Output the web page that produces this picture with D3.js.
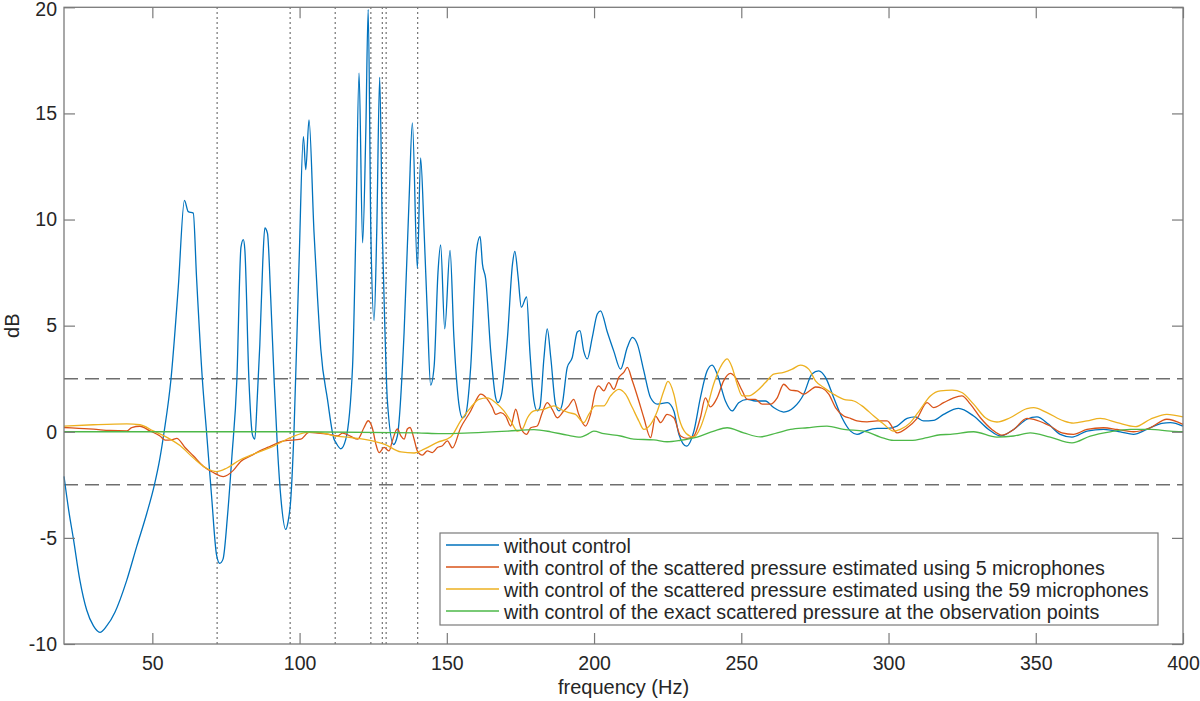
<!DOCTYPE html>
<html>
<head>
<meta charset="utf-8">
<script src="https://cdn.jsdelivr.net/npm/d3@7"></script>
<style>
  body { margin: 0; background: #fff; }
  svg { font-family: "Liberation Sans", Arial, Helvetica, sans-serif; }
</style>
</head>
<body>
<div id="chart"></div>
<script>
// values: [frequency (Hz), dB]
const withoutControl = [
    [20,-2.1],[21.6,-3.7],[23.2,-5.05],[25.4,-7.0],[27.7,-8.4],[30,-9.15],[32.2,-9.45],[34.5,-9.15],[37.3,-8.5],
    [41.3,-7.0],[44.7,-5.4],[48.1,-3.85],[50.7,-2.5],[52.5,-1.3],[54.0,0],[56.3,2.44],[58.8,6.8],
    [60.9,10.9],[62.2,10.37],[63.9,10.3],[65,7.3],[67,2.44],[68.4,0],[70.1,-3.0],[71.8,-5.8],
    [72.9,-6.2],[74,-6.0],[75.5,-4.0],[77,-1.2],[78.7,2.44],[80.1,8.7],[80.9,9.05],[81.4,8.6],
    [82.8,2.44],[84,-0.15],[84.8,-0.35],[85.6,1.5],[86.5,4.1],[87.5,8.0],[88.2,9.6],[89.1,9.35],
    [90.2,6.3],[91.4,2.3],[92.5,-0.8],[93.7,-3.2],[95.3,-4.6],[96,-4.3],[97,-3.2],[98.1,0],
    [99.8,7.85],[101.3,13.9],[102.1,12.35],[103.2,14.7],[104.9,9.4],[106.1,6.3],[107.2,3.9],
    [109.5,1.5],[111.7,-0.35],[112.3,-0.5],[114,-0.8],[115.7,-0.35],[118,3.1],[119.1,9.4],
    [120.2,16.9],[121.4,8.9],[122.5,14.2],[123.3,19.9],[124.2,9.4],[125.3,5.25],[126.2,9.4],
    [127.2,16.7],[128.1,9.4],[129,4.7],[129.8,1.5],[131.9,-0.6],[133.2,-0.2],[135.5,4.7],
    [137.2,11],[138.3,14.55],[140,7.7],[141.1,12.9],[142.3,9.4],[143.4,5.5],[144.5,2.2],
    [145.7,3.1],[147,7.5],[147.9,8.8],[149.3,4.85],[151.1,8.55],[152.4,4.45],[154.1,1.3],
    [155.3,0.66],[156.4,0.82],[158.1,3.03],[160.1,8.55],[161.3,9.2],[162.1,7.9],[163.2,7.2],
    [164.9,3.8],[166.6,1.6],[167.4,1.37],[168.5,1.7],[170.6,4.45],[172.3,7.9],[173.1,8.5],
    [174.2,7.3],[175.3,5.87],[177.1,6.35],[178.2,3.8],[179.6,1.45],[180.7,0.98],[181.6,1.14],
    [183,3.5],[184.1,4.85],[185.3,3.5],[186.9,1.3],[188.1,0.98],[189.2,1.3],[190.9,3.03],
    [192.6,3.5],[194.3,4.7],[195.2,4.77],[196.5,3.8],[197.7,3.43],[199.4,4.45],[201.1,5.55],
    [202.2,5.7],[204.5,4.7],[206.7,3.8],[209,2.95],[211.3,3.98],[213,4.45],[214.7,4.13],
    [216.9,2.87],[219.2,1.6],[221.5,1.3],[224.9,1.37],[227.1,0.98],[228.8,-0.12],[231.4,-0.68],
    [233.9,0.03],[236.1,1.6],[238.4,2.87],[240.1,3.14],[241.8,2.72],[244.6,1.45],[246.9,0.98],
    [249.1,1.37],[252,1.53],[254.8,1.45],[258.2,1.45],[261,1.14],[264.4,0.93],[267.8,1.14],
    [271.2,1.77],[274,2.72],[276.3,2.87],[278.6,2.56],[281.4,1.6],[284.2,0.66],[287.1,0.03],
    [289.3,-0.12],[292.1,0.03],[296.1,0.16],[299.5,0.16],[302.9,0.27],[306.3,0.63],[309.1,0.7],
    [311.9,0.51],[315.3,0.54],[318.7,0.82],[323.8,1.1],[328.9,0.74],[334,0.11],[338,-0.2],
    [342.5,0.11],[347,0.59],[350.4,0.7],[354.4,0.35],[358.3,-0.12],[362.3,-0.25],[367.4,0.03],
    [373,0.11],[378.7,0],[383.2,-0.12],[387.7,0.11],[392.8,0.4],[395.7,0.43],[400,0.27]
];

const fiveMics = [
    [20,0.2],[25,0.16],[30,0.12],[35.6,0.06],[41.3,0.04],[43,0.2],[45.8,0.26],[49.2,0.04],
    [52.6,-0.2],[54.3,-0.39],[56.5,-0.38],[58.3,-0.31],[61.1,-0.74],[63.9,-1.13],[67.3,-1.62],[70.7,-1.92],
    [74.1,-2.11],[77.5,-1.82],[80,-1.4],[83.5,-1.13],[86.5,-0.9],[89.1,-0.74],[94.8,-0.43],
    [100.4,-0.35],[103.2,-0.03],[106.1,-0.06],[109.5,-0.11],[112.9,-0.19],[114.6,-0.06],
    [117.4,-0.22],[119.7,-0.35],[121.9,0.2],[123.3,0.52],[124.8,0.13],[125.9,-0.58],[127,-0.98],
    [128.7,-0.74],[130.4,-0.9],[131.5,-0.43],[133.2,0.13],[134.4,-0.19],[135.5,-0.35],
    [136.6,0.13],[137.5,0.2],[138.9,-0.35],[140,-0.9],[141.7,-1.1],[143.4,-0.9],[145.1,-0.98],
    [146.8,-0.74],[148.5,-0.66],[150.2,-0.43],[151.9,-0.76],[154.7,0.19],[158.1,0.98],
    [159.8,1.45],[161.5,1.77],[163.8,1.53],[165.5,1.14],[166.6,0.82],[168.3,0.9],[170,0.74],
    [171.7,0.27],[173.4,1.06],[175.1,0.19],[177.1,-0.12],[178.5,0.19],[180.7,0.27],[182.4,0.9],
    [184.1,1.37],[185.8,1.06],[187.5,0.66],[189.7,0.98],[191.4,1.22],[193.1,1.53],[194.8,0.82],
    [197.1,0.27],[198.8,0.82],[200.5,1.93],[201.6,2.16],[203.3,1.93],[205,2.32],[206.7,2.0],
    [208.4,2.56],[210.1,2.8],[211.3,3.03],[213,2.4],[215.2,1.45],[216.9,0.66],[219.2,-0.28],
    [220.9,0.74],[222.6,0.43],[224.8,0.82],[227.1,0.66],[229.4,-0.2],[231.6,-0.31],[233.9,-0.2],
    [236.1,0.66],[237.8,1.6],[239.5,1.17],[241.8,1.6],[244,2.4],[246.3,2.75],[248,2.56],
    [250.3,1.93],[252,1.53],[254.8,1.53],[257.1,1.3],[259.9,1.3],[262.2,1.6],[264.4,2.24],
    [266.7,1.96],[269,1.93],[271.2,1.77],[273.5,1.96],[275.2,2.11],[277.5,2.05],[279.7,1.77],
    [282,1.14],[284.8,0.74],[287.1,0.63],[289.3,0.51],[292.7,0.47],[296.1,0.51],[299.5,0.51],
    [302.9,-0.05],[306.3,0.19],[309.7,0.63],[313.1,1.37],[315.3,1.14],[318.7,1.37],[322.1,1.6],
    [324.9,1.69],[327.8,1.3],[331.2,0.66],[335.1,0.11],[338.5,-0.16],[342.5,0.11],[347,0.63],
    [350.4,0.54],[354.9,0.27],[358.9,-0.05],[362.8,-0.12],[367.4,0.11],[373,0.19],[377.6,0.11],
    [383.2,0],[388.9,0.19],[394.5,0.59],[400,0.35]
];

const allMics = [
    [20,0.27],[30,0.33],[41.3,0.37],[45.8,0.33],[50.3,0.04],[54.8,-0.25],[59.4,-0.65],
    [63.9,-1.23],[68.4,-1.72],[71.8,-1.88],[75.2,-1.72],[79.7,-1.33],[83.5,-1.1],[86.5,-0.94],
    [90.2,-0.74],[97,-0.27],[102.7,-0.03],[106.1,-0.03],[111.7,-0.19],[117.4,-0.27],[123,-0.38],
    [128.7,-0.58],[134.4,-0.95],[138.9,-1.0],[142.3,-0.82],[146.8,-0.5],[151.3,-0.25],
    [154.7,0.51],[158.1,1.14],[160.9,1.53],[163.8,1.6],[166.6,1.37],[169.4,0.98],[171.7,0.51],
    [174,0.03],[175.6,0.11],[177.4,0.66],[179.6,0.98],[183,1.06],[186.4,1.22],[188.6,1.06],
    [191.4,0.9],[193.7,0.82],[196.5,0.43],[198.2,0.82],[200.5,1.22],[203.3,1.22],[205.6,1.69],
    [208.4,2.0],[210.7,1.77],[213,1.14],[215.2,0.51],[216.9,0.11],[219.2,0.35],[221.5,0.98],
    [223.7,1.93],[225.1,2.37],[227.1,1.77],[228.8,0.66],[231.3,-0.08],[233.9,-0.25],[236.1,0.19],
    [238.4,1.14],[240.6,2.24],[243.5,3.19],[245.2,3.43],[246.9,3.03],[248.6,2.24],[250.3,1.69],
    [252.6,1.69],[255.4,1.93],[258.2,2.32],[261,2.72],[264.4,2.8],[267.3,2.95],[270.1,3.14],
    [272.9,2.95],[275.2,2.4],[278,2.08],[281.4,1.77],[284.8,1.53],[288.2,1.45],[291,1.22],
    [295,0.74],[298.4,0.35],[301.7,0.03],[304,0.11],[307.4,0.43],[310.8,1.06],[314.2,1.69],
    [317.6,1.93],[321.6,1.96],[324.9,1.85],[328.9,1.3],[332.9,0.66],[336.8,0.46],[341.3,0.66],
    [347,1.09],[349.3,1.14],[353.8,0.9],[359.5,0.51],[362.8,0.41],[367.4,0.51],[371.9,0.63],
    [377.6,0.43],[383.8,0.24],[388.9,0.59],[394.5,0.82],[400,0.7]
];

const exactPressure = [
    [20,0],[100,0],[140,-0.05],[147.9,-0.09],[158.1,-0.05],[170.6,0.03],[179.6,0.1],[185.3,0],
    [190.9,-0.16],[195.4,-0.25],[197.7,-0.12],[199.9,0.03],[203.3,-0.09],[209,-0.2],[213.5,-0.35],
    [220.3,-0.38],[224.8,-0.47],[229.4,-0.4],[235,-0.25],[240.7,0.03],[245.2,0.19],[250.8,-0.05],
    [256.5,-0.24],[262.2,-0.05],[266.7,0.11],[272.4,0.19],[279.1,0.27],[284.8,0.11],[291.6,0.03],
    [297.2,-0.25],[301.7,-0.41],[307.4,-0.41],[313.1,-0.28],[317.6,-0.14],[321,-0.12],[328.9,0],
    [336.8,-0.25],[342.5,-0.2],[348.1,-0.05],[354.9,-0.25],[362.3,-0.52],[368.5,-0.2],[375.3,0],
    [382.1,0.11],[388.9,0.11],[395.7,0.03],[400,0]
];

// vertical dotted markers and horizontal +/-2.5 dB limits
const markerFreqs = [72, 96.8, 112.1, 124.2, 128.1, 129.4, 140.1];
const limitLevels = [2.5, -2.5];

const xTicks = [50, 100, 150, 200, 250, 300, 350, 400];
const yTicks = [-10, -5, 0, 5, 10, 15, 20];

const seriesNames = [
    "without control",
    "with control of the scattered pressure estimated using 5 microphones",
    "with control of the scattered pressure estimated using the 59 microphones",
    "with control of the exact scattered pressure at the observation points"
];
const seriesColors = ["#0072BD", "#D95319", "#EDB120", "#4DB848"];

const width = 1200, height = 701;
const plotLeft = 64, plotRight = 1183, plotTop = 7.3, plotBottom = 644;

const svg = d3.select("#chart")
    .append("svg")
    .attr("width", width)
    .attr("height", height);

const x = d3.scaleLinear().domain([20, 400]).range([plotLeft, plotRight]);
const y = d3.scaleLinear().domain([-10, 20]).range([plotBottom, plotTop]);

// dashed limits
svg.selectAll(".limit")
    .data(limitLevels)
    .enter().append("line")
    .attr("class", "limit")
    .attr("x1", plotLeft).attr("x2", plotRight)
    .attr("y1", d => y(d)).attr("y2", d => y(d))
    .attr("stroke", "#6e6e6e")
    .attr("stroke-width", 1.5)
    .attr("stroke-dasharray", "14,7");

// dotted markers
svg.selectAll(".marker")
    .data(markerFreqs)
    .enter().append("line")
    .attr("class", "marker")
    .attr("x1", d => x(d)).attr("x2", d => x(d))
    .attr("y1", plotTop).attr("y2", plotBottom)
    .attr("stroke", "#444")
    .attr("stroke-width", 1.2)
    .attr("stroke-dasharray", "1.5,3.5");

const line = d3.line()
    .x(d => x(d[0]))
    .y(d => y(d[1]))
    .curve(d3.curveMonotoneX);

[withoutControl, fiveMics, allMics, exactPressure].forEach((data, i) => {
    svg.append("path")
        .datum(data)
        .attr("fill", "none")
        .attr("stroke", seriesColors[i])
        .attr("stroke-width", 1.3)
        .attr("stroke-linejoin", "round")
        .attr("d", line);
});

// axes, ticks pointing inwards, mirrored on top and right
const axisColor = "#7a7a7a";
const tickLen = 11;
const label = d => String(d);

const gx = svg.append("g")
    .attr("transform", `translate(0,${plotBottom})`)
    .call(d3.axisBottom(x).tickValues(xTicks).tickSize(-tickLen).tickPadding(12).tickFormat(label));

const gy = svg.append("g")
    .attr("transform", `translate(${plotLeft},0)`)
    .call(d3.axisLeft(y).tickValues(yTicks).tickSize(-tickLen).tickPadding(7).tickFormat(label));

const gt = svg.append("g")
    .attr("transform", `translate(0,${plotTop})`)
    .call(d3.axisTop(x).tickValues(xTicks).tickSize(-tickLen).tickFormat(""));

const gr = svg.append("g")
    .attr("transform", `translate(${plotRight},0)`)
    .call(d3.axisRight(y).tickValues(yTicks).tickSize(-tickLen).tickFormat(""));

[gx, gy, gt, gr].forEach(g => {
    g.select(".domain").remove();
    g.selectAll(".tick line").attr("stroke", axisColor).attr("stroke-width", 1.2);
    g.selectAll(".tick text")
        .attr("fill", "#262626")
        .style("font-size", "19.5px")
        .style("font-family", "'Liberation Sans', Arial, Helvetica, sans-serif");
});

// keep the top label "20" inside the page
gy.selectAll(".tick text").filter(d => d === 20).attr("dy", "0.42em");

svg.append("rect")
    .attr("x", plotLeft).attr("y", plotTop)
    .attr("width", plotRight - plotLeft).attr("height", plotBottom - plotTop)
    .attr("fill", "none")
    .attr("stroke", axisColor)
    .attr("stroke-width", 1.3);

// axis labels
svg.append("text")
    .attr("x", (plotLeft + plotRight) / 2)
    .attr("y", 694)
    .attr("text-anchor", "middle")
    .attr("fill", "#262626")
    .style("font-size", "20px")
    .text("frequency (Hz)");

svg.append("text")
    .attr("transform", `translate(19,${(plotTop + plotBottom) / 2}) rotate(-90)`)
    .attr("text-anchor", "middle")
    .attr("fill", "#262626")
    .style("font-size", "20px")
    .text("dB");

// legend
const legend = svg.append("g");

legend.append("rect")
    .attr("x", 440).attr("y", 533)
    .attr("width", 718).attr("height", 92)
    .attr("fill", "#fff")
    .attr("stroke", axisColor)
    .attr("stroke-width", 1.2);

const rows = legend.selectAll(".row")
    .data(seriesNames)
    .enter().append("g")
    .attr("class", "row")
    .attr("transform", (d, i) => `translate(0,${545 + i * 22})`);

rows.append("line")
    .attr("x1", 446).attr("x2", 499)
    .attr("y1", 0).attr("y2", 0)
    .attr("stroke", (d, i) => seriesColors[i])
    .attr("stroke-width", 1.3);

rows.append("text")
    .attr("x", 504)
    .attr("y", 1)
    .attr("dy", "0.35em")
    .attr("fill", "#262626")
    .style("font-size", "19.7px")
    .text(d => d);
</script>
</body>
</html>
